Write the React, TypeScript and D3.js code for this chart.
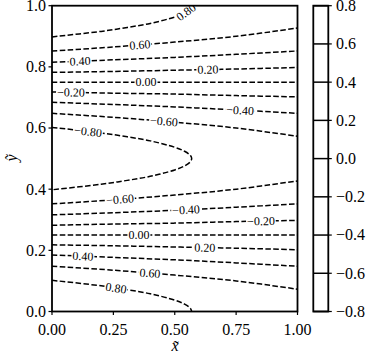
import React from 'react'
import * as d3 from 'd3'

const width = 373
const height = 360
const plot = { left: 52, right: 297.5, top: 5.7, bottom: 311.5 }
const cbar = { left: 313.3, right: 328.3 }
const font = "'Liberation Serif', 'DejaVu Serif', serif"

const xTicks = [0, 0.25, 0.5, 0.75, 1]
const yTicks = [0, 0.2, 0.4, 0.6, 0.8, 1]
const cbarTicks = [-0.8, -0.6, -0.4, -0.2, 0, 0.2, 0.4, 0.6, 0.8]
const levels = [-0.8, -0.6, -0.4, -0.2, 0, 0.2, 0.4, 0.6, 0.8]

const gridX = [0, 0.25, 0.5, 0.75, 1]

// y of each contour at gridX
const pos06Low = [0.148, 0.135, 0.119, 0.1, 0.073]
const pos04Low = [0.185, 0.177, 0.169, 0.159, 0.148]
const pos02Low = [0.218, 0.215, 0.211, 0.207, 0.202]
const zeroLow = [0.25, 0.25, 0.25, 0.25, 0.25]
const neg02Low = [0.282, 0.286, 0.289, 0.294, 0.298]
const neg04Low = [0.316, 0.323, 0.331, 0.341, 0.352]
const neg06Low = [0.352, 0.365, 0.381, 0.4, 0.427]
const neg06High = [0.648, 0.635, 0.619, 0.6, 0.573]
const neg04High = [0.684, 0.677, 0.669, 0.659, 0.648]
const neg02High = [0.718, 0.714, 0.711, 0.706, 0.702]
const zeroHigh = [0.75, 0.75, 0.75, 0.75, 0.75]
const pos02High = [0.782, 0.785, 0.789, 0.793, 0.798]
const pos04High = [0.815, 0.823, 0.831, 0.841, 0.852]
const pos06High = [0.852, 0.865, 0.881, 0.9, 0.927]

// the curved 0.8 / -0.8 contours as [x, y] points
const pos08Low = [[0, 0.102], [0.2, 0.084], [0.3, 0.072], [0.4, 0.058], [0.5, 0.037], [0.54, 0.024], [0.564, 0.01], [0.569, 0]]
const pos08High = [[0, 0.898], [0.2, 0.916], [0.3, 0.928], [0.4, 0.942], [0.5, 0.963], [0.54, 0.976], [0.564, 0.99], [0.569, 1]]
const neg08Mid = [
  [0, 0.602], [0.2, 0.584], [0.3, 0.572], [0.4, 0.558], [0.5, 0.537], [0.54, 0.524], [0.564, 0.51], [0.569, 0.5],
  [0.564, 0.49], [0.54, 0.476], [0.5, 0.463], [0.4, 0.442], [0.3, 0.428], [0.2, 0.416], [0, 0.398],
]

const onGrid = (ys) => gridX.map((x, i) => [x, ys[i]])

const contours = [
  { key: 'p08l', level: 0.8, pts: pos08Low, labelX: 0.261 },
  { key: 'p06l', level: 0.6, pts: onGrid(pos06Low), labelX: 0.399 },
  { key: 'p04l', level: 0.4, pts: onGrid(pos04Low), labelX: 0.126 },
  { key: 'p02l', level: 0.2, pts: onGrid(pos02Low), labelX: 0.623 },
  { key: 'z0l', level: 0, pts: onGrid(zeroLow), labelX: 0.354 },
  { key: 'n02l', level: -0.2, pts: onGrid(neg02Low), labelX: 0.851 },
  { key: 'n04l', level: -0.4, pts: onGrid(neg04Low), labelX: 0.546 },
  { key: 'n06l', level: -0.6, pts: onGrid(neg06Low), labelX: 0.277 },
  { key: 'n08m', level: -0.8, pts: neg08Mid, labelX: 0.147 },
  { key: 'n06h', level: -0.6, pts: onGrid(neg06High), labelX: 0.456 },
  { key: 'n04h', level: -0.4, pts: onGrid(neg04High), labelX: 0.766 },
  { key: 'n02h', level: -0.2, pts: onGrid(neg02High), labelX: 0.077 },
  { key: 'z0h', level: 0, pts: onGrid(zeroHigh), labelX: 0.383 },
  { key: 'p02h', level: 0.2, pts: onGrid(pos02High), labelX: 0.635 },
  { key: 'p04h', level: 0.4, pts: onGrid(pos04High), labelX: 0.114 },
  { key: 'p06h', level: 0.6, pts: onGrid(pos06High), labelX: 0.358 },
  { key: 'p08h', level: 0.8, pts: pos08High, labelX: 0.546 },
]

const fmt = (v, digits) => (v < -1e-9 ? '\u2212' : '') + Math.abs(v).toFixed(digits)

const x = d3.scaleLinear().domain([0, 1]).range([plot.left, plot.right])
const y = d3.scaleLinear().domain([0, 1]).range([plot.bottom, plot.top])
const yc = d3.scaleLinear().domain([-0.8, 0.8]).range([plot.bottom, plot.top])

const line = d3
  .line()
  .x((d) => x(d[0]))
  .y((d) => y(d[1]))
  .curve(d3.curveCatmullRom.alpha(0.5))

// find the spot on a contour where its label sits, and the angle there
function labelSpot(pts, lx) {
  for (let i = 0; i < pts.length - 1; i++) {
    const a = pts[i]
    const b = pts[i + 1]
    const lo = Math.min(a[0], b[0])
    const hi = Math.max(a[0], b[0])
    if (lx >= lo && lx <= hi && hi > lo) {
      const t = (lx - a[0]) / (b[0] - a[0])
      const yy = a[1] + t * (b[1] - a[1])
      let ang = (Math.atan2(y(b[1]) - y(a[1]), x(b[0]) - x(a[0])) * 180) / Math.PI
      if (ang > 90) ang -= 180
      if (ang < -90) ang += 180
      return { px: x(lx), py: y(yy), ang }
    }
  }
  return null
}

const labelSize = 12

export default function App() {
  return (
    <svg width={width} height={height} style={{ position: 'absolute', left: 0, top: 0, background: '#fff' }}>
      <defs>
        <clipPath id="plotclip">
          <rect x={plot.left} y={plot.top} width={plot.right - plot.left} height={plot.bottom - plot.top} />
        </clipPath>
      </defs>
      <rect x={0} y={0} width={width} height={height} fill="#fff" />

      <g clipPath="url(#plotclip)">
        {contours.map((c) => (
          <path key={c.key} d={line(c.pts)} fill="none" stroke="#000" strokeWidth={1.5} strokeDasharray="5.5,2.4" />
        ))}
        {contours.map((c) => {
          const s = labelSpot(c.pts, c.labelX)
          if (!s) return null
          const txt = fmt(c.level, 2)
          const w = (1.75 + (c.level < -1e-9 ? 0.56 : 0)) * labelSize + 2
          return (
            <g key={c.key + '-lab'} transform={`translate(${s.px},${s.py}) rotate(${s.ang})`}>
              <rect x={-w / 2} y={-4.5} width={w} height={9} fill="#fff" />
              <text textAnchor="middle" dy="0.34em" fontSize={labelSize} fontFamily={font} fill="#000">
                {txt}
              </text>
            </g>
          )
        })}
      </g>

      {/* axes frame */}
      <rect x={plot.left} y={plot.top} width={plot.right - plot.left} height={plot.bottom - plot.top} fill="none" stroke="#000" strokeWidth={1.8} />

      {xTicks.map((t) => (
        <g key={'xt' + t}>
          <line x1={x(t)} x2={x(t)} y1={plot.bottom} y2={plot.bottom + 3.5} stroke="#000" strokeWidth={1.2} />
          <text x={x(t)} y={335} textAnchor="middle" fontSize={16} fontFamily={font}>
            {t.toFixed(2)}
          </text>
        </g>
      ))}
      {yTicks.map((t) => (
        <g key={'yt' + t}>
          <line x1={plot.left - 3.5} x2={plot.left} y1={y(t)} y2={y(t)} stroke="#000" strokeWidth={1.2} />
          <text x={46} y={y(t)} dy="0.34em" textAnchor="end" fontSize={16} fontFamily={font}>
            {t.toFixed(1)}
          </text>
        </g>
      ))}

      <text x={175} y={351} textAnchor="middle" fontSize={16} fontStyle="italic" fontFamily={font}>
        x&#771;
      </text>
      <text transform="translate(17,158) rotate(-90)" textAnchor="middle" fontSize={16} fontStyle="italic" fontFamily={font}>
        y&#771;
      </text>

      {/* colorbar */}
      <rect x={cbar.left} y={plot.top} width={cbar.right - cbar.left} height={plot.bottom - plot.top} fill="#fff" />
      {levels.map((l) => (
        <line key={'cl' + l} x1={cbar.left} x2={cbar.right} y1={yc(l)} y2={yc(l)} stroke="#000" strokeWidth={1.5} />
      ))}
      <rect x={cbar.left} y={plot.top} width={cbar.right - cbar.left} height={plot.bottom - plot.top} fill="none" stroke="#000" strokeWidth={1.8} />
      {cbarTicks.map((t) => (
        <g key={'ct' + t}>
          <line x1={cbar.right} x2={cbar.right + 3.5} y1={yc(t)} y2={yc(t)} stroke="#000" strokeWidth={1.2} />
          <text x={336} y={yc(t)} dy="0.34em" fontSize={16} fontFamily={font}>
            {fmt(t, 1)}
          </text>
        </g>
      ))}
    </svg>
  )
}
